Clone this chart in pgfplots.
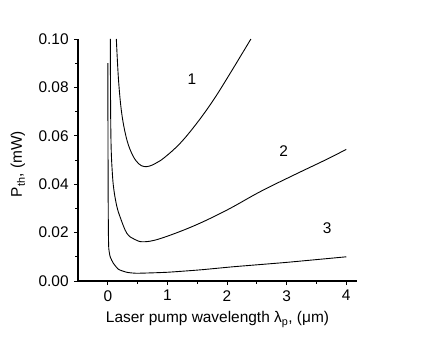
\documentclass[border=0pt]{standalone}
\usepackage{pgfplots}
\pgfplotsset{compat=1.18}
\usepackage{fontspec}
\setmainfont{Liberation Sans}

\begin{document}
\fontsize{15.5}{18}\selectfont
\begin{tikzpicture}
\useasboundingbox (-78bp,-56bp) rectangle (359bp,281bp);
\begin{axis}[
    scale only axis,
    width=279bp, height=242bp,
    xmin=-0.5, xmax=4.18,
    ymin=0, ymax=0.1,
    axis lines*=left,
    axis line style={-, line width=1.1pt},
    tick align=outside,
    major tick length=4bp,
    minor tick length=2.5bp,
    every tick/.style={black, line width=0.9pt},
    xtick={0,1,2,3,4},
    ytick={0,0.02,0.04,0.06,0.08,0.1},
    minor x tick num=1,
    minor y tick num=1,
    /pgf/number format/assume math mode=true,
    yticklabel style={/pgf/number format/.cd, fixed, fixed zerofill, precision=2},
    xticklabel style={/pgf/number format/.cd, fixed},
    scaled y ticks=false,
    xlabel={Laser pump wavelength λ\textsubscript{p}, (μm)},
    ylabel={P\textsubscript{th}, (mW)},
    ylabel style={xshift=-4bp, yshift=3bp},
    clip=true,
]
% curve 1
\addplot[black, line width=0.9pt, smooth, tension=0.6] coordinates {
(0.143,0.100) (0.18,0.083) (0.235,0.069) (0.32,0.0583) (0.42,0.0518)
(0.52,0.0484) (0.61,0.0473) (0.70,0.0475) (0.80,0.0486) (0.95,0.0510)
(1.213,0.0569) (1.493,0.0652) (1.772,0.0748) (2.052,0.0858) (2.40,0.1000)
};
% curve 2
\addplot[black, line width=0.9pt, smooth, tension=0.6] coordinates {
(0.043,0.100) (0.046,0.075) (0.055,0.056) (0.075,0.045) (0.10,0.038)
(0.15,0.031) (0.21,0.0262) (0.32,0.0197) (0.45,0.0172) (0.60,0.0162)
(0.877,0.0175) (1.436,0.0227) (1.997,0.0293) (2.555,0.0369) (3.114,0.0437)
(3.674,0.0503) (4.00,0.0544)
};
% curve 3
\addplot[black, line width=0.9pt, smooth, tension=0.3] coordinates {
(0.000,0.090) (0.003,0.060) (0.006,0.035) (0.010,0.020) (0.016,0.0135)
(0.04,0.0100) (0.094,0.0073) (0.18,0.0048) (0.32,0.0036) (0.49,0.0032)
(0.99,0.0036) (1.55,0.0046) (2.11,0.0059) (3.00,0.0077) (4.00,0.0100)
};
\node at (axis cs:1.41,0.0833) {1};
\node at (axis cs:2.95,0.0538) {2};
\node at (axis cs:3.68,0.0218) {3};
\end{axis}
\end{tikzpicture}
\end{document}
